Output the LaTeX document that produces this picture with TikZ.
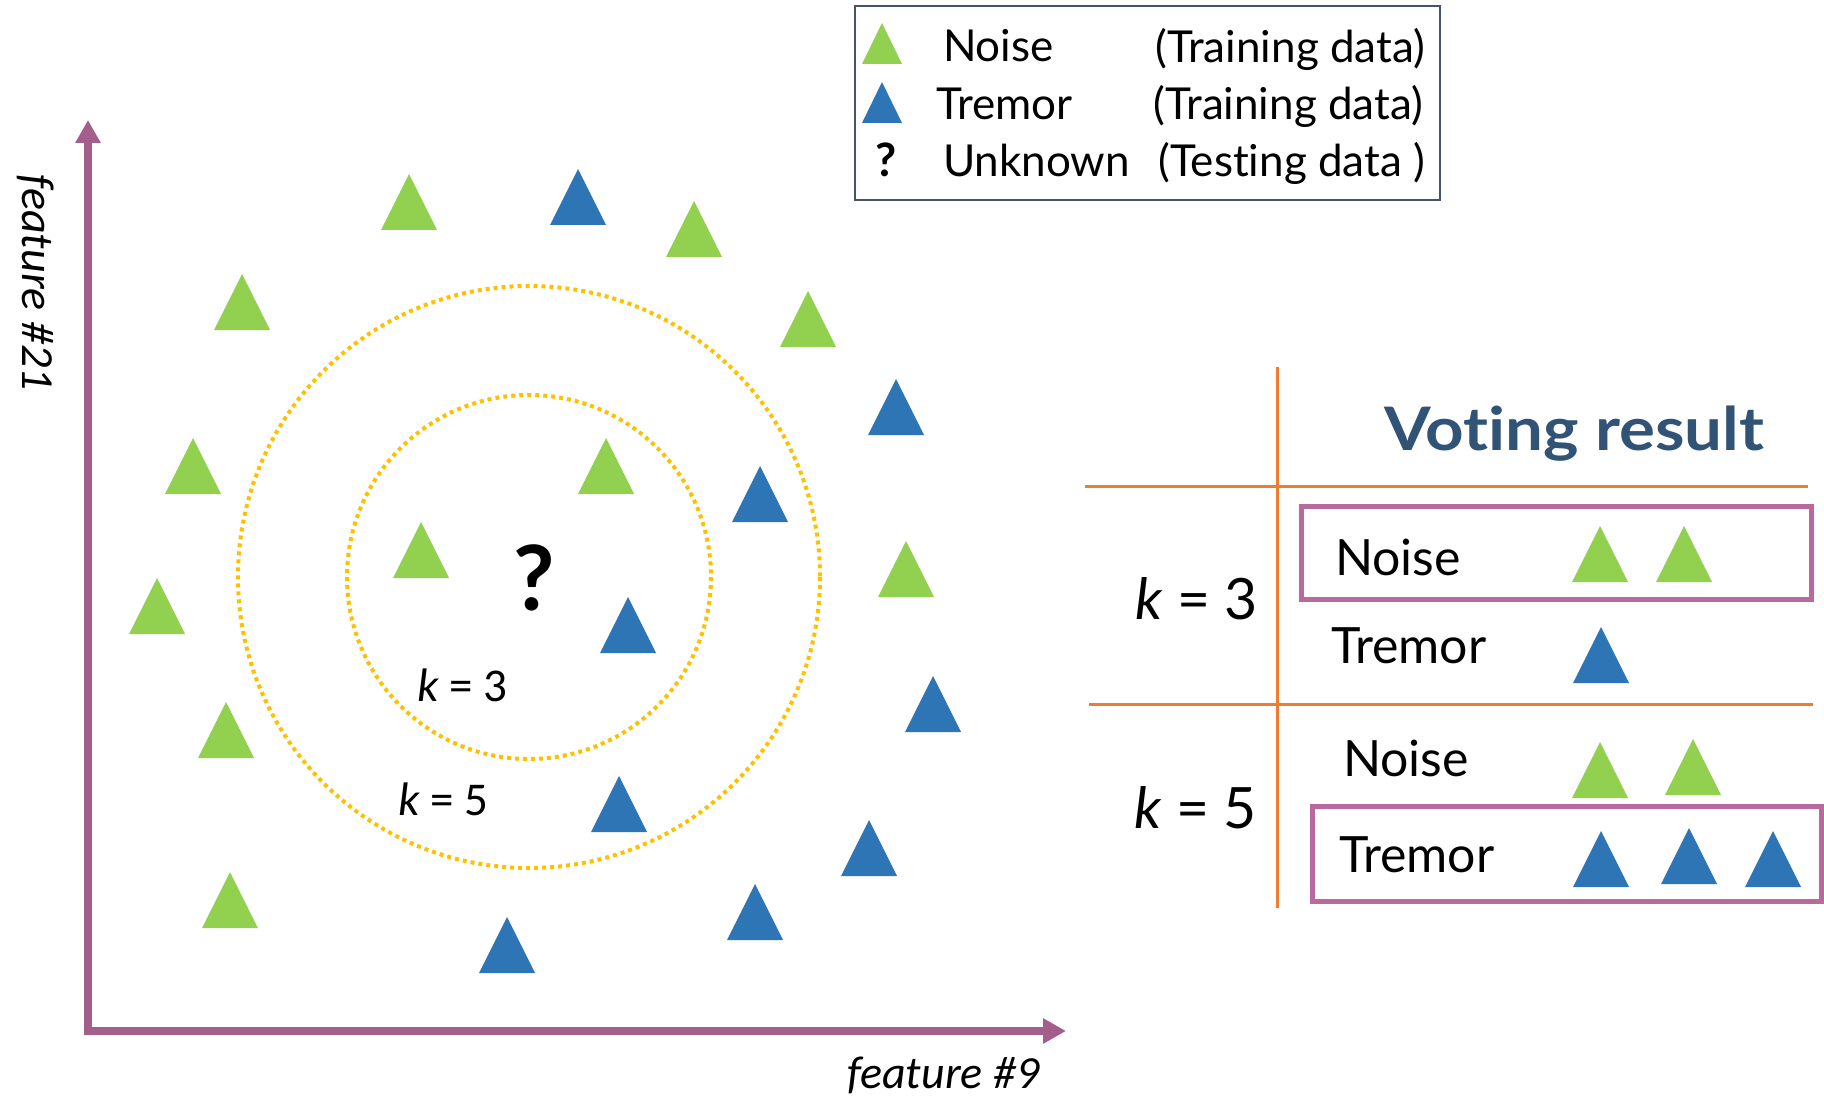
\documentclass[tikz,border=0pt]{standalone}
\usepackage{fontspec}
\setmainfont{Lato}[Ligatures=NoCommon]
\newfontfamily\calfont{Carlito}
\usetikzlibrary{arrows.meta}
\definecolor{ngreen}{RGB}{146,208,80}
\definecolor{nblue}{RGB}{46,117,182}
\definecolor{dotyellow}{RGB}{255,192,0}
\definecolor{orangeline}{RGB}{237,125,49}
\definecolor{axispurple}{RGB}{164,94,140}
\definecolor{boxpurple}{RGB}{184,106,158}
\definecolor{votecol}{RGB}{49,83,117}
\definecolor{legborder}{RGB}{68,84,106}
\begin{document}
\begin{tikzpicture}[x=1pt,y=-1pt,
  every node/.style={inner sep=0pt, outer sep=0pt},
  tri/.pic={\path[pic actions] (-28,56) -- (28,56) -- (0,0) -- cycle;},
  smalltri/.pic={\path[pic actions] (-20,41) -- (20,41) -- (0,0) -- cycle;},
  legtxt/.style={font=\fontsize{44}{50}\selectfont, anchor=base west},
  legtxtr/.style={font=\fontsize{44}{50}\selectfont, anchor=base east},
  tabtxt/.style={font=\fontsize{50}{56}\selectfont, anchor=base west},
  ktxt/.style={font=\fontsize{57}{62}\selectfont, anchor=base west},
  circk/.style={font=\calfont\fontsize{47}{52}\selectfont, anchor=base west},
  feat/.style={font=\calfont\itshape\fontsize{46}{52}\selectfont, anchor=base west},
  axisline/.style={draw=axispurple, line width=8pt, line join=miter,
     arrows={Triangle[width=24pt,length=23pt]-Triangle[width=24pt,length=23pt]}},
  dotring/.style={draw=dotyellow, line width=4pt, dash pattern=on 4pt off 4pt},
  tabline/.style={draw=orangeline, line width=3pt},
  votebox/.style={draw=boxpurple, line width=5pt},
]
\useasboundingbox (0,0) rectangle (1824,1102);

% axes
\coordinate (ytip) at (88,120);
\coordinate (org) at (88,1031);
\coordinate (xtip) at (1066,1031);
\draw[axisline] (ytip) -- (org) -- (xtip);
\node[feat, rotate=-90] (ylab) at (23,175) {feature \#21};
\node[feat] (xlab) at (847,1088) {feature \#9};

% neighbourhood circles
\draw[dotring] (529,577) circle[radius=291];
\draw[dotring] (529,577) circle[radius=182];
\node[font=\bfseries\fontsize{90}{96}\selectfont, anchor=base] (unk) at (534,610) {?};
\node[circk] (k3c) at (417,701) {\textit{k} = 3};
\node[circk] (k5c) at (398,815) {\textit{k} = 5};

% green (noise) training points
\pic[fill=ngreen] at (409,174) {tri};
\pic[fill=ngreen] at (242,274) {tri};
\pic[fill=ngreen] at (694,201) {tri};
\pic[fill=ngreen] at (808,291) {tri};
\pic[fill=ngreen] at (193,438) {tri};
\pic[fill=ngreen] at (606,438) {tri};
\pic[fill=ngreen] at (421,522) {tri};
\pic[fill=ngreen] at (157,578) {tri};
\pic[fill=ngreen] at (906,541) {tri};
\pic[fill=ngreen] at (226,702) {tri};
\pic[fill=ngreen] at (230,872) {tri};
% blue (tremor) training points
\pic[fill=nblue] at (578,169) {tri};
\pic[fill=nblue] at (896,379) {tri};
\pic[fill=nblue] at (760,466) {tri};
\pic[fill=nblue] at (628,597) {tri};
\pic[fill=nblue] at (933,676) {tri};
\pic[fill=nblue] at (619,776) {tri};
\pic[fill=nblue] at (869,820) {tri};
\pic[fill=nblue] at (755,884) {tri};
\pic[fill=nblue] at (507,917) {tri};

% legend
\draw[draw=legborder, line width=2.5pt] (855,6) rectangle (1440,200);
\pic[fill=ngreen] at (882,23) {smalltri};
\pic[fill=nblue] at (882,82) {smalltri};
\node[font=\bfseries\fontsize{46}{50}\selectfont, anchor=base] (lq) at (886,177) {?};
\node[legtxt] (ln) at (943,62) {Noise};
\node[legtxt] (lt) at (936,120) {Tremor};
\node[legtxt] (lu) at (943,177) {Unknown};
\node[legtxtr] (ltr1) at (1425,63) {(Training data)};
\node[legtxtr] (ltr2) at (1423,120) {(Training data)};
\node[legtxtr] (lte) at (1425,177) {(Testing data )};

% voting table
\draw[tabline] (1277,367) -- (1277,908);
\draw[tabline] (1085,486) -- (1808,486);
\draw[tabline] (1089,704) -- (1813,704);
\node[font=\bfseries\fontsize{60}{66}\selectfont, text=votecol, anchor=base west, xscale=1.12] (vote) at (1384,450) {Voting result};
\node[ktxt] (k3) at (1135,619) {\textit{k} = 3};
\node[ktxt] (k5) at (1134,828) {\textit{k} = 5};
\node[tabtxt] (n3) at (1335,575) {Noise};
\node[tabtxt] (t3) at (1331,663) {Tremor};
\node[tabtxt] (n5) at (1343,776) {Noise};
\node[tabtxt] (t5) at (1339,872) {Tremor};
\draw[votebox] (1301,506) rectangle (1811,599);
\draw[votebox] (1312,806) rectangle (1821,901);
\pic[fill=ngreen] at (1600,526) {tri};
\pic[fill=ngreen] at (1684,526) {tri};
\pic[fill=nblue] at (1601,627) {tri};
\pic[fill=ngreen] at (1600,742) {tri};
\pic[fill=ngreen] at (1693,739) {tri};
\pic[fill=nblue] at (1601,831) {tri};
\pic[fill=nblue] at (1689,828) {tri};
\pic[fill=nblue] at (1773,831) {tri};
\end{tikzpicture}
\end{document}
